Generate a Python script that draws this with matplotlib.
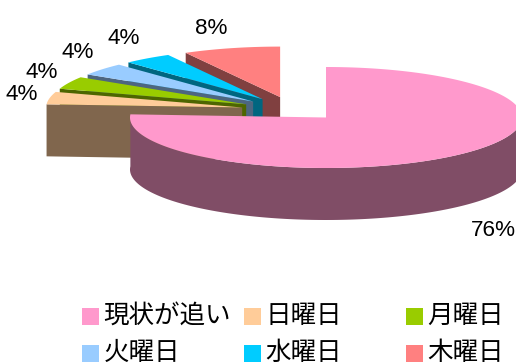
import numpy as np
import matplotlib
matplotlib.use("Agg")
import matplotlib.pyplot as plt
from matplotlib.colors import to_rgb
from matplotlib.patches import Rectangle

categories = ["現状が追い", "日曜日", "月曜日", "火曜日", "水曜日", "木曜日"]
values = [76, 4, 4, 4, 4, 8]
colors = ["#FF99CC", "#FFCC99", "#99CC00", "#99CCFF", "#00CCFF", "#FF8080"]
pct_labels = ["76%", "4%", "4%", "4%", "4%", "8%"]

# layout (pixels)
W, H = 516, 363
RX, RY, DEPTH = 196.0, 50.5, 52.0
SMALL_CENTER = (293.0, 110.0)
MAIN_CENTER = (326.0, 117.5)
EXPLODE = 0.264
label_pos = [(493, 231), (22, 95), (42, 73), (78, 53), (124, 39), (211, 29)]
legend_x = [82, 244, 406]
legend_y = [316.0, 352.5]
legend_order = [0, 1, 2, 3, 4, 5]

plt.rcParams["font.family"] = ["Noto Sans CJK JP", "DejaVu Sans"]
fig = plt.figure(figsize=(W / 100, H / 100), dpi=100, facecolor="white")
ax = fig.add_axes([0, 0, 1, 1])
ax.set_xlim(0, W)
ax.set_ylim(H, 0)
ax.axis("off")


def pt(c, a):
    return c[0] + RX * np.sin(a), c[1] - RY * np.cos(a)


def dark(col):
    return tuple(v * 0.5 for v in to_rgb(col))


fractions = np.array(values) / sum(values) * 2 * np.pi
edges = np.concatenate([[0], np.cumsum(fractions)])

# small slices, back to front
for i in range(len(values) - 1, 0, -1):
    a0, a1 = edges[i], edges[i + 1]
    mid = (a0 + a1) / 2
    c = (SMALL_CENTER[0] + RX * EXPLODE * np.sin(mid),
         SMALL_CENTER[1] - RY * EXPLODE * np.cos(mid))
    p = pt(c, a0)
    ax.fill([c[0], p[0], p[0], c[0]], [c[1], p[1], p[1] + DEPTH, c[1] + DEPTH],
            color=dark(colors[i]), lw=0)
    t = np.linspace(a0, a1, 40)
    xs, ys = pt(c, t)
    ax.fill(np.r_[c[0], xs], np.r_[c[1], ys], color=colors[i], lw=0)

# main slice: outer wall then top
a0, a1 = edges[0], edges[1]
c = MAIN_CENTER
t = np.linspace(np.pi / 2, a1, 200)
xs, ys = pt(c, t)
ax.fill(np.r_[xs, xs[::-1]], np.r_[ys, ys[::-1] + DEPTH], color=dark(colors[0]), lw=0)
t = np.linspace(a0, a1, 300)
xs, ys = pt(c, t)
ax.fill(np.r_[c[0], xs], np.r_[c[1], ys], color=colors[0], lw=0)

for lab, (x, y) in zip(pct_labels, label_pos):
    ax.text(x, y, lab, family="Liberation Sans", fontsize=16.2, ha="center", va="center", color="black")

# legend
for k in legend_order:
    row, col = k // 3, k % 3
    x, y = legend_x[col], [316.5, 353.5][row]
    ax.add_patch(Rectangle((x, y - 8.5), 17, 17, color=colors[k], lw=0, clip_on=False))
    ax.text(x + 21.5, legend_y[row], categories[k], fontsize=18.4, ha="left", va="center", color="black")

fig.savefig("out.png", dpi=100, facecolor="white")
